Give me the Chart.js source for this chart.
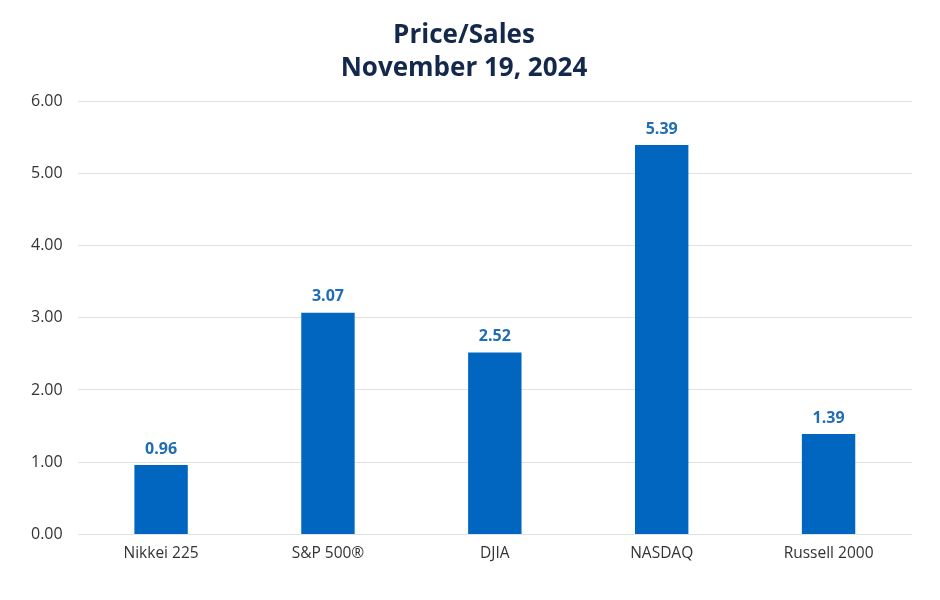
<!DOCTYPE html>
<html>
<head>
<meta charset="utf-8">
<script src="https://cdn.jsdelivr.net/npm/chart.js@4"></script>
<style>
html,body{margin:0;padding:0;background:#fff;}
#wrap{width:940px;height:600px;}
</style>
</head>
<body>
<div id="wrap"><canvas id="c" width="940" height="600"></canvas></div>
<script>
const categories = ["Nikkei 225", "S&P 500®", "DJIA", "NASDAQ", "Russell 2000"];
const values = [0.96, 3.07, 2.52, 5.39, 1.39];
const titleLines = ["Price/Sales", "November 19, 2024"];
const yTicks = [0, 1, 2, 3, 4, 5, 6];

const FONT = "'Open Sans', Lato, sans-serif";

const valueLabels = {
  id: 'valueLabels',
  afterDatasetsDraw(chart) {
    const ctx = chart.ctx;
    const meta = chart.getDatasetMeta(0);
    ctx.save();
    ctx.font = "bold 16px " + FONT;
    ctx.fillStyle = "#1f6db5";
    ctx.textAlign = "center";
    ctx.textBaseline = "middle";
    meta.data.forEach((bar, i) => {
      ctx.fillText(values[i].toFixed(2), bar.x, bar.y - 16);
    });
    ctx.restore();
  }
};

new Chart(document.getElementById('c'), {
  type: 'bar',
  data: {
    labels: categories,
    datasets: [{
      data: values,
      backgroundColor: '#0066bf',
      borderWidth: 0,
      categoryPercentage: 1,
      barPercentage: 0.32
    }]
  },
  options: {
    responsive: false,
    animation: false,
    devicePixelRatio: 1,
    layout: { padding: { left: 16, right: 28, top: 19, bottom: 27 } },
    plugins: {
      legend: { display: false },
      tooltip: { enabled: false },
      title: {
        display: true,
        text: titleLines,
        color: '#14284b',
        font: { family: FONT, size: 26, weight: 'bold', lineHeight: 1.27 },
        padding: { top: 0, bottom: 16 }
      }
    },
    scales: {
      x: {
        grid: { display: false, drawTicks: false },
        border: { display: false },
        ticks: { color: '#333', font: { family: FONT, size: 15.5 }, padding: 10 }
      },
      y: {
        min: 0, max: 6,
        afterBuildTicks(axis) { axis.ticks = yTicks.map(v => ({ value: v })); },
        grid: { color: '#e2e2e2', drawTicks: false, lineWidth: 1 },
        border: { display: false },
        ticks: {
          color: '#333', font: { family: FONT, size: 16 }, padding: 15,
          callback: v => Number(v).toFixed(2)
        }
      }
    }
  },
  plugins: [valueLabels]
});
</script>
</body>
</html>
